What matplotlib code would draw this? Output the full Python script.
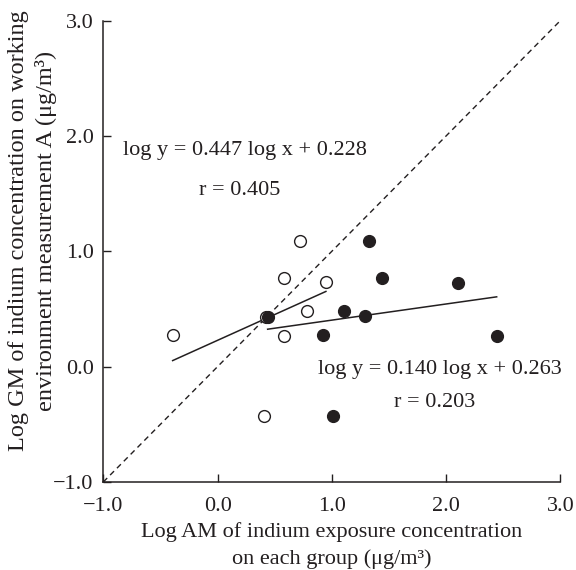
import numpy as np
import matplotlib
matplotlib.use('Agg')
import matplotlib.pyplot as plt

plt.rcParams['font.family'] = ['Liberation Serif', 'DejaVu Serif']
plt.rcParams['font.size'] = 16

# Grupo A (circulos abiertos)
open_x = [0.718, 0.578, 0.948, 0.780, 0.423, -0.393, 0.581, 0.409]
open_y = [1.091, 0.765, 0.730, 0.484, 0.427, 0.274, 0.268, -0.425]

# Grupo B (circulos rellenos)
fill_x = [1.327, 0.438, 1.108, 0.925, 1.012, 1.436, 2.106, 1.292, 2.442]
fill_y = [1.091, 0.427, 0.484, 0.274, -0.425, 0.765, 0.727, 0.441, 0.268]

# Rectas de regresion (pendiente, intercepto)
fit_open = (0.447, 0.228)
fit_fill = (0.140, 0.263)

ticks = [-1.0, 0.0, 1.0, 2.0, 3.0]
tick_labels = ['\u22121.0', '0.0', '1.0', '2.0', '3.0']

fig = plt.figure(figsize=(5.76, 5.70), dpi=100)
ax = fig.add_axes([0.1793, 0.1544, 0.7937, 0.8096])

dark = '#231f20'

# linea identidad
ax.plot([-1, 3], [-1, 3], color=dark, lw=1.0, ls=(0, (4, 3)))

# regresiones
xo = np.array([min(open_x), max(open_x)])
ax.plot(xo, fit_open[0] * xo + fit_open[1], color=dark, lw=1.1)
xf = np.array([min(fill_x), max(fill_x)])
ax.plot(xf, fit_fill[0] * xf + fit_fill[1], color=dark, lw=1.1)

ax.scatter(open_x, open_y, s=72, facecolor='white', edgecolor=dark, lw=1.0, zorder=3)
ax.scatter(fill_x, fill_y, s=72, facecolor=dark, edgecolor=dark, lw=1.0, zorder=4)

ax.text(-0.83, 1.877, 'log y = 0.447 log x + 0.228', ha='left', va='center', color=dark)
ax.text(-0.163, 1.53, 'r = 0.405', ha='left', va='center', color=dark)
ax.text(3.01, -0.029, 'log y = 0.140 log x + 0.263', ha='right', va='center', color=dark)
ax.text(1.543, -0.315, 'r = 0.203', ha='left', va='center', color=dark)

ax.set_xlim(-1, 3)
ax.set_ylim(-1, 3)
ax.set_xticks(ticks)
ax.set_xticklabels(tick_labels)
ax.set_yticks(ticks)
ax.set_yticklabels(tick_labels)
ax.tick_params(direction='in', length=6, width=1, colors=dark)
ax.tick_params(axis='x', pad=11)
ax.tick_params(axis='y', pad=7)
for s in ['top', 'right']:
    ax.spines[s].set_visible(False)
for s in ['left', 'bottom']:
    ax.spines[s].set_linewidth(1.1)
    ax.spines[s].set_color(dark)

ax.set_xlabel('Log AM of indium exposure concentration\non each group (\u03bcg/m\u00b3)',
              linespacing=1.5, color=dark, labelpad=4)
ax.set_ylabel('Log GM of indium concentration on working\nenvironment measurement A (\u03bcg/m\u00b3)',
              linespacing=1.36, color=dark, fontsize=17.5)
ax.yaxis.set_label_coords(-0.102, 0.545)

fig.savefig('out.png', dpi=100)
